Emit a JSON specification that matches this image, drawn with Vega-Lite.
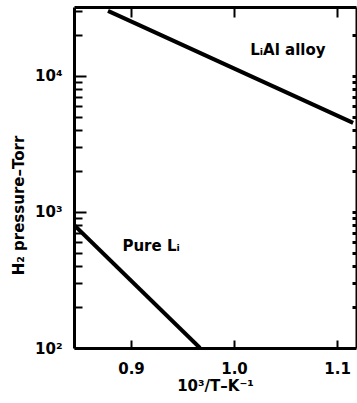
{
  "$schema": "https://vega.github.io/schema/vega-lite/v6.json",
  "width": 282,
  "height": 341,
  "autosize": {"type": "none"},
  "padding": {"left": 74, "top": 7, "right": 1, "bottom": 55},
  "background": "white",
  "config": {
    "view": {"stroke": null},
    "font": "DejaVu Sans",
    "axis": {"domainColor": "black", "tickColor": "black", "labelColor": "black", "titleColor": "black", "grid": false}
  },
  "datasets": {
    "lines": [
      {"series": "LiAl alloy", "x": 0.8777, "p": 30000},
      {"series": "LiAl alloy", "x": 1.1156, "p": 4510},
      {"series": "Pure Li", "x": 0.8447, "p": 802},
      {"series": "Pure Li", "x": 0.967, "p": 100}
    ],
    "labels": [
      {"label": "LᵢAl alloy", "x": 1.0523, "p": 15500},
      {"label": "Pure Lᵢ", "x": 0.9195, "p": 560}
    ]
  },
  "layer": [
    {
      "data": {"name": "lines"},
      "mark": {"type": "line", "color": "black", "strokeWidth": 4, "clip": true},
      "encoding": {
        "x": {
          "field": "x", "type": "quantitative",
          "scale": {"domain": [0.8447, 1.1184], "nice": false, "zero": false},
          "axis": {
            "orient": "bottom", "values": [0.9, 1.0, 1.1], "format": ".1f",
            "domainWidth": 3, "ticks": false, "labelPadding": 13,
            "labelFont": "DejaVu Sans", "labelFontWeight": "bold", "labelFontSize": 15,
            "title": "10³/T–K⁻¹", "titleFont": "DejaVu Sans", "titleFontWeight": "bold", "titleFontSize": 15,
            "titleY": 37, "titleBaseline": "middle"
          }
        },
        "y": {
          "field": "p", "type": "quantitative",
          "scale": {"type": "log", "domain": [100, 32000], "nice": false},
          "axis": {
            "orient": "left",
            "values": [100, 1000, 10000],
            "labelExpr": "datum.value == 100 ? '10²' : datum.value == 1000 ? '10³' : '10⁴'",
            "domainWidth": 3, "ticks": false, "labelPadding": 12,
            "labelFont": "DejaVu Sans", "labelFontWeight": "bold", "labelFontSize": 15,
            "title": "H₂ pressure–Torr", "titleFont": "DejaVu Sans", "titleFontWeight": "bold", "titleFontSize": 15,
            "titleX": -56, "titleY": 198, "titleBaseline": "middle", "titleAngle": -90, "titleAlign": "center"
          }
        },
        "detail": {"field": "series"}
      }
    },
    {
      "data": {"name": "labels"},
      "mark": {"type": "text", "font": "DejaVu Sans", "fontWeight": "bold", "fontSize": 15, "color": "black"},
      "encoding": {
        "x": {"field": "x", "type": "quantitative", "axis": null},
        "y": {"field": "p", "type": "quantitative", "axis": null},
        "text": {"field": "label"}
      }
    },
    {
      "data": {"name": "lines"},
      "mark": {"type": "point", "opacity": 0},
      "encoding": {
        "x": {"field": "x", "type": "quantitative",
          "axis": {"orient": "bottom", "values": [0.9, 1.0, 1.1], "domain": false, "labels": false, "title": null, "tickWidth": 2, "tickSize": 8, "offset": -8}},
        "y": {"field": "p", "type": "quantitative",
          "axis": {"orient": "left", "values": [100, 1000, 10000], "domain": false, "labels": false, "title": null, "tickWidth": 2, "tickSize": 12, "offset": -12}}
      }
    },
    {
      "data": {"name": "lines"},
      "mark": {"type": "point", "opacity": 0},
      "encoding": {
        "x": {"field": "x", "type": "quantitative",
          "axis": {"orient": "top", "values": [0.9, 1.0, 1.1], "domainWidth": 3, "ticks": false, "labels": false, "title": null}},
        "y": {"field": "p", "type": "quantitative",
          "axis": {"orient": "left", "values": [200, 300, 400, 500, 600, 700, 800, 900, 2000, 3000, 4000, 5000, 6000, 7000, 8000, 9000, 20000, 30000], "domain": false, "labels": false, "title": null, "tickWidth": 2, "tickSize": 8, "offset": -8}}
      }
    },
    {
      "data": {"name": "lines"},
      "mark": {"type": "point", "opacity": 0},
      "encoding": {
        "x": {"field": "x", "type": "quantitative",
          "axis": {"orient": "top", "values": [0.9, 1.0, 1.1], "domain": false, "labels": false, "title": null, "tickWidth": 2, "tickSize": 10, "offset": -10}},
        "y": {"field": "p", "type": "quantitative",
          "axis": {"orient": "right", "values": [200, 300, 400, 500, 600, 700, 800, 900, 1000, 2000, 3000, 4000, 5000, 6000, 7000, 8000, 9000, 10000, 20000], "domainWidth": 2, "ticks": false, "labels": false, "title": null}}
      }
    },
    {
      "data": {"name": "lines"},
      "mark": {"type": "point", "opacity": 0},
      "encoding": {
        "x": {"field": "x", "type": "quantitative", "axis": null},
        "y": {"field": "p", "type": "quantitative",
          "axis": {"orient": "right", "values": [200, 300, 400, 500, 600, 700, 800, 900, 1000, 2000, 3000, 4000, 5000, 6000, 7000, 8000, 9000, 10000, 20000], "domain": false, "labels": false, "title": null, "tickWidth": 3, "tickSize": 4, "offset": -4}}
      }
    }
  ],
  "resolve": {"axis": {"x": "independent", "y": "independent"}}
}
